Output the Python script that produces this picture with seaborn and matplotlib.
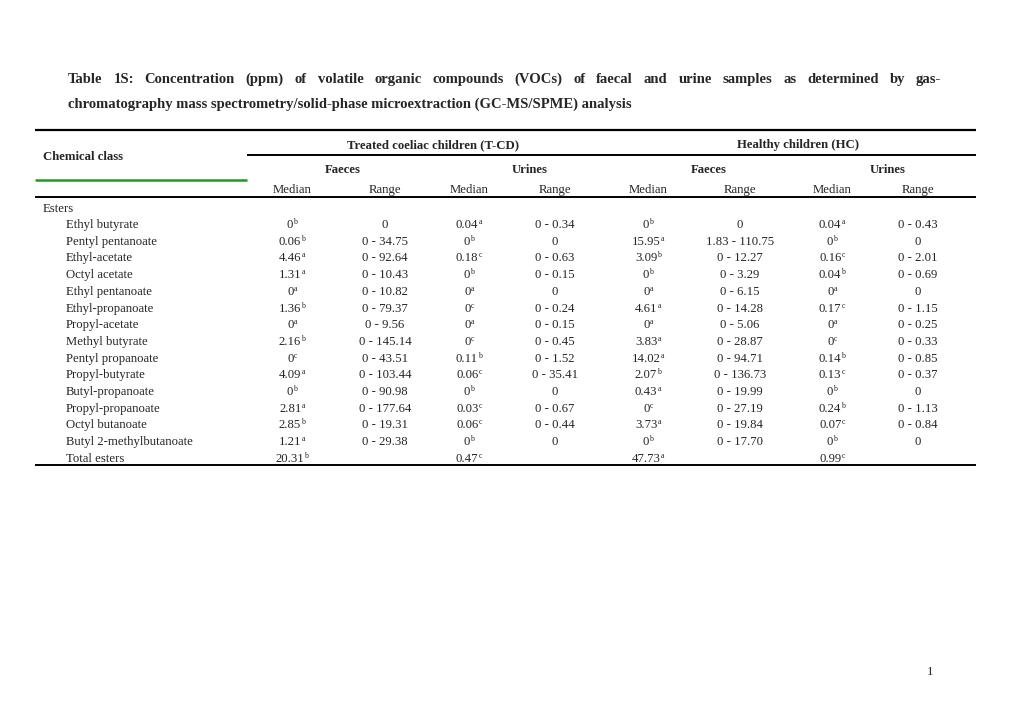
import numpy as np
import matplotlib
matplotlib.use("Agg")
from matplotlib import pyplot as plt
import seaborn as sns

# ---- table data ----
title_line1 = "Table 1S: Concentration (ppm) of volatile organic compounds (VOCs) of faecal and urine samples as determined by gas-"
title_line2 = "chromatography mass spectrometry/solid-phase microextraction (GC-MS/SPME) analysis"

groups = ["Treated coeliac children (T-CD)", "Healthy children (HC)"]
sample_types = ["Faeces", "Urines", "Faeces", "Urines"]
stats = ["Median", "Range"] * 4

chemical_class = "Esters"
compounds = ["Ethyl butyrate", "Pentyl pentanoate", "Ethyl-acetate", "Octyl acetate",
             "Ethyl pentanoate", "Ethyl-propanoate", "Propyl-acetate", "Methyl butyrate",
             "Pentyl propanoate", "Propyl-butyrate", "Butyl-propanoate", "Propyl-propanoate",
             "Octyl butanoate", "Butyl 2-methylbutanoate", "Total esters"]

tcd_faeces_median = ["0", "0.06", "4.46", "1.31", "0", "1.36", "0", "2.16", "0", "4.09", "0", "2.81", "2.85", "1.21", "20.31"]
tcd_faeces_sig = ["b", "b", "a", "a", "a", "b", "a", "b", "c", "a", "b", "a", "b", "a", "b"]
tcd_faeces_range = ["0", "0 - 34.75", "0 - 92.64", "0 - 10.43", "0 - 10.82", "0 - 79.37", "0 - 9.56",
                    "0 - 145.14", "0 - 43.51", "0 - 103.44", "0 - 90.98", "0 - 177.64", "0 - 19.31", "0 - 29.38", ""]

tcd_urines_median = ["0.04", "0", "0.18", "0", "0", "0", "0", "0", "0.11", "0.06", "0", "0.03", "0.06", "0", "0.47"]
tcd_urines_sig = ["a", "b", "c", "b", "a", "c", "a", "c", "b", "c", "b", "c", "c", "b", "c"]
tcd_urines_range = ["0 - 0.34", "0", "0 - 0.63", "0 - 0.15", "0", "0 - 0.24", "0 - 0.15", "0 - 0.45",
                    "0 - 1.52", "0 - 35.41", "0", "0 - 0.67", "0 - 0.44", "0", ""]

hc_faeces_median = ["0", "15.95", "3.09", "0", "0", "4.61", "0", "3.83", "14.02", "2.07", "0.43", "0", "3.73", "0", "47.73"]
hc_faeces_sig = ["b", "a", "b", "b", "a", "a", "a", "a", "a", "b", "a", "c", "a", "b", "a"]
hc_faeces_range = ["0", "1.83 - 110.75", "0 - 12.27", "0 - 3.29", "0 - 6.15", "0 - 14.28", "0 - 5.06",
                   "0 - 28.87", "0 - 94.71", "0 - 136.73", "0 - 19.99", "0 - 27.19", "0 - 19.84", "0 - 17.70", ""]

hc_urines_median = ["0.04", "0", "0.16", "0.04", "0", "0.17", "0", "0", "0.14", "0.13", "0", "0.24", "0.07", "0", "0.99"]
hc_urines_sig = ["a", "b", "c", "b", "a", "c", "a", "c", "b", "c", "b", "b", "c", "b", "c"]
hc_urines_range = ["0 - 0.43", "0", "0 - 2.01", "0 - 0.69", "0", "0 - 1.15", "0 - 0.25", "0 - 0.33",
                   "0 - 0.85", "0 - 0.37", "0", "0 - 1.13", "0 - 0.84", "0", ""]

page_number = "1"

# ---- style ----
sns.set_theme(style="white")
plt.rcParams["font.family"] = ["Liberation Serif", "DejaVu Serif"]

fs = 9.2
sup_fs = fs * 0.62
base = 4  # row centre -> text baseline
fig = plt.figure(figsize=(10.2, 7.2), dpi=100)
ax = fig.add_axes([0, 0, 1, 1])
ax.set_xlim(0, 1020)
ax.set_ylim(720, 0)
ax.axis("off")
renderer = fig.canvas.get_renderer()


def text_width(s, **kw):
    t = ax.text(0, 0, s, **kw)
    w = t.get_window_extent(renderer).width
    t.remove()
    return w


def put(x, y, s, ha="center", **kw):
    kw.setdefault("fontsize", fs)
    ax.text(x, round(y) + base, s, ha=ha, va="baseline", **kw)


def put_sup(x, y, s, sup):
    # value with a superscript letter, centred as one unit
    wv = text_width(s, fontsize=fs)
    ws = text_width(sup, fontsize=sup_fs)
    x0 = x - (wv + ws) / 2
    put(x0, y, s, ha="left")
    ax.text(x0 + wv, round(y) + base - 4, sup, ha="left", va="baseline", fontsize=sup_fs)


# ---- title (justified first line) ----
title_kw = dict(fontsize=10, fontweight="bold")
w2 = text_width(title_line2, **title_kw)
title_fs = 10 * 562 / w2
title_kw = dict(fontsize=title_fs, fontweight="bold")
left, right = 68, 941
words = title_line1.split(" ")
widths = [text_width(w, **title_kw) for w in words]
gap = (right - left - sum(widths)) / (len(words) - 1)
x = left
for w, wd in zip(words, widths):
    put(x, 79, w, ha="left", **title_kw)
    x += wd + gap
put(left, 104, title_line2, ha="left", **title_kw)

# ---- rules ----
ax.hlines(130, 35, 976, color="black", lw=1.6)
ax.hlines(155, 247, 976, color="black", lw=1.4)
ax.hlines(180, 35, 247, color="#1f9a1f", lw=1.8)
ax.hlines(197, 35, 976, color="black", lw=1.4)
ax.hlines(465, 35, 976, color="black", lw=1.4)

# ---- headers ----
put(43, 156, "Chemical class", ha="left", fontweight="bold")
for g, gx in zip(groups, [433, 798]):
    put(gx, 144, g, fontweight="bold")
for s, sx in zip(sample_types, [343, 530, 709, 888]):
    put(sx, 169, s, fontweight="bold")
col_x = [292, 385, 469, 555, 648, 740, 832, 918]
for s, sx in zip(stats, col_x):
    put(sx, 189, s)

# ---- body ----
put(43, 208, chemical_class, ha="left")
row_y = 224 + 16.7 * np.arange(len(compounds))
columns = [
    (tcd_faeces_median, tcd_faeces_sig), (tcd_faeces_range, None),
    (tcd_urines_median, tcd_urines_sig), (tcd_urines_range, None),
    (hc_faeces_median, hc_faeces_sig), (hc_faeces_range, None),
    (hc_urines_median, hc_urines_sig), (hc_urines_range, None),
]
for i, name in enumerate(compounds):
    y = row_y[i]
    put(66, y, name, ha="left")
    for (vals, sig), cx in zip(columns, col_x):
        v = vals[i]
        if not v:
            continue
        if sig is not None:
            put_sup(cx, y, v, sig[i])
        else:
            put(cx, y, v)

put(930, 671, page_number)

fig.savefig("out.png", dpi=100)
